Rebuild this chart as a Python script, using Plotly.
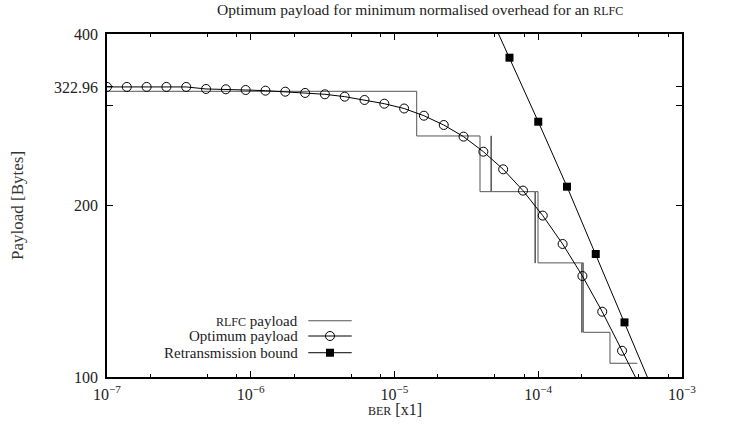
import plotly.graph_objects as go

# ---------------- data ----------------
opt_ber = [1.000e-7, 1.373e-7, 1.886e-7, 2.590e-7, 3.557e-7, 4.887e-7, 6.712e-7, 9.218e-7,
           1.266e-6, 1.739e-6, 2.388e-6, 3.279e-6, 4.504e-6, 6.185e-6, 8.495e-6,
           1.167e-5, 1.602e-5, 2.201e-5, 3.022e-5, 4.151e-5, 5.702e-5, 7.830e-5,
           1.075e-4, 1.477e-4, 2.029e-4, 2.786e-4, 3.827e-4, 5.256e-4]
opt_payload = [322.96, 322.96, 322.96, 322.96, 322.96, 320.3, 319.9, 319.0,
               318.1, 316.8, 315.2, 313.5, 310.5, 306.4, 301.8,
               296.0, 287.5, 276.9, 264.2, 248.6, 231.5, 212.4,
               192.0, 171.2, 150.4, 130.2, 111.2, 95.0]

retx_ber = [3.981e-5, 6.310e-5, 1.000e-4, 1.585e-4, 2.512e-4, 3.981e-4, 6.310e-4]
retx_payload = [469.0, 363.5, 280.6, 215.8, 164.4, 124.7, 94.5]

rlfc_ber = [1.0e-7, 1.427e-5, 3.934e-5, 4.69e-5, 4.72e-5, 9.49e-5, 9.55e-5, 9.96e-5,
            2.006e-4, 2.02e-4, 2.058e-4, 3.155e-4, 4.887e-4]
rlfc_payload = [317.3, 264.9, 211.5, 264.9, 211.5, 158.6, 211.5, 158.6,
                119.8, 158.6, 119.8, 105.7, 105.7]

x_major = [1e-7, 1e-6, 1e-5, 1e-4, 1e-3]
x_major_text = ["10<sup>−7</sup>", "10<sup>−6</sup>", "10<sup>−5</sup>", "10<sup>−4</sup>", "10<sup>−3</sup>"]
x_minor = [2e-7, 5e-7, 8e-7, 2e-6, 5e-6, 8e-6, 2e-5, 5e-5, 8e-5, 2e-4, 5e-4, 8e-4]
y_ticks = [100, 200, 300, 322.96, 400]
y_tick_text = ["100", "200", "", "322.96", "400"]

FONT = "Liberation Serif"
SC = 'font-size:12px'
legend_names = ['<span style="%s">RLFC</span> payload' % SC, "Optimum payload", "Retransmission bound"]

fig = go.Figure()

fig.add_trace(go.Scatter(x=rlfc_ber, y=rlfc_payload, mode="lines", line_shape="hv",
                         line=dict(color="#555555", width=1), showlegend=False))
fig.add_trace(go.Scatter(x=opt_ber, y=opt_payload, mode="lines+markers",
                         line=dict(color="black", width=1),
                         marker=dict(symbol="circle-open", size=9, color="black", line=dict(width=1)),
                         showlegend=False))
fig.add_trace(go.Scatter(x=retx_ber, y=retx_payload, mode="lines+markers",
                         line=dict(color="black", width=1),
                         marker=dict(symbol="square", size=8, color="black"),
                         showlegend=False))

# manual legend (text left of sample) on an invisible overlay axis
leg_y = [0.164, 0.1195, 0.0708]
leg_x = [0.3501, 0.4256]
leg_mid = 0.3878
line_colors = ["#555555", "black", "black"]
for i in range(3):
    fig.add_trace(go.Scatter(x=leg_x, y=[leg_y[i], leg_y[i]], xaxis="x2", yaxis="y2", mode="lines",
                             line=dict(color=line_colors[i], width=1),
                             showlegend=False, hoverinfo="skip"))
fig.add_trace(go.Scatter(x=[leg_mid], y=[leg_y[1]], xaxis="x2", yaxis="y2", mode="markers",
                         marker=dict(symbol="circle-open", size=9, color="black", line=dict(width=1)),
                         showlegend=False, hoverinfo="skip"))
fig.add_trace(go.Scatter(x=[leg_mid], y=[leg_y[2]], xaxis="x2", yaxis="y2", mode="markers",
                         marker=dict(symbol="square", size=8, color="black"),
                         showlegend=False, hoverinfo="skip"))

annotations = []
for i in range(3):
    annotations.append(dict(x=0.3357, y=leg_y[i], xref="paper", yref="paper",
                            text=legend_names[i], showarrow=False, xanchor="right", yanchor="middle",
                            font=dict(family=FONT, size=15, color="#222")))
annotations.append(dict(x=0.5443, y=1.07, xref="paper", yref="paper", showarrow=False,
                        text='Optimum payload for minimum normalised overhead for an <span style="%s">RLFC</span>' % SC,
                        xanchor="center", yanchor="middle", font=dict(family=FONT, size=15.5, color="#222")))
annotations.append(dict(x=-0.1548, y=0.5015, xref="paper", yref="paper", showarrow=False,
                        text="Payload [Bytes]", textangle=-90, xanchor="center", yanchor="middle",
                        font=dict(family=FONT, size=17, color="#333")))
annotations.append(dict(x=0.5009, y=-0.096, xref="paper", yref="paper", showarrow=False,
                        text='<span style="%s">BER</span> [x1]' % SC, xanchor="center", yanchor="middle",
                        font=dict(family=FONT, size=16, color="#222")))

fig.update_layout(
    width=730, height=430,
    margin=dict(l=107, r=48, t=34, b=53),
    paper_bgcolor="white", plot_bgcolor="white",
    font=dict(family=FONT, size=16, color="#222"),
    xaxis=dict(type="log", range=[-7, -3], tickvals=x_major, ticktext=x_major_text,
               ticks="inside", ticklen=6, tickcolor="black", tickwidth=1,
               showline=True, linecolor="black", linewidth=1.5, mirror="ticks",
               showgrid=False, zeroline=False, ticklabelstandoff=2,
               tickfont=dict(family=FONT, size=16, color="#222"),
               minor=dict(tickvals=x_minor, ticks="inside", ticklen=3, tickcolor="black", showgrid=False)),
    yaxis=dict(type="log", range=[2, 2.60206], tickvals=y_ticks, ticktext=y_tick_text,
               ticks="inside", ticklen=6, tickcolor="black", tickwidth=1,
               showline=True, linecolor="black", linewidth=1.5, mirror="ticks",
               showgrid=False, zeroline=False, ticklabelstandoff=4,
               tickfont=dict(family=FONT, size=16, color="#222")),
    xaxis2=dict(overlaying="x", range=[0, 1], visible=False, fixedrange=True),
    yaxis2=dict(overlaying="y", range=[0, 1], visible=False, fixedrange=True),
    annotations=annotations,
    showlegend=False,
)

fig.write_html("out.html")
